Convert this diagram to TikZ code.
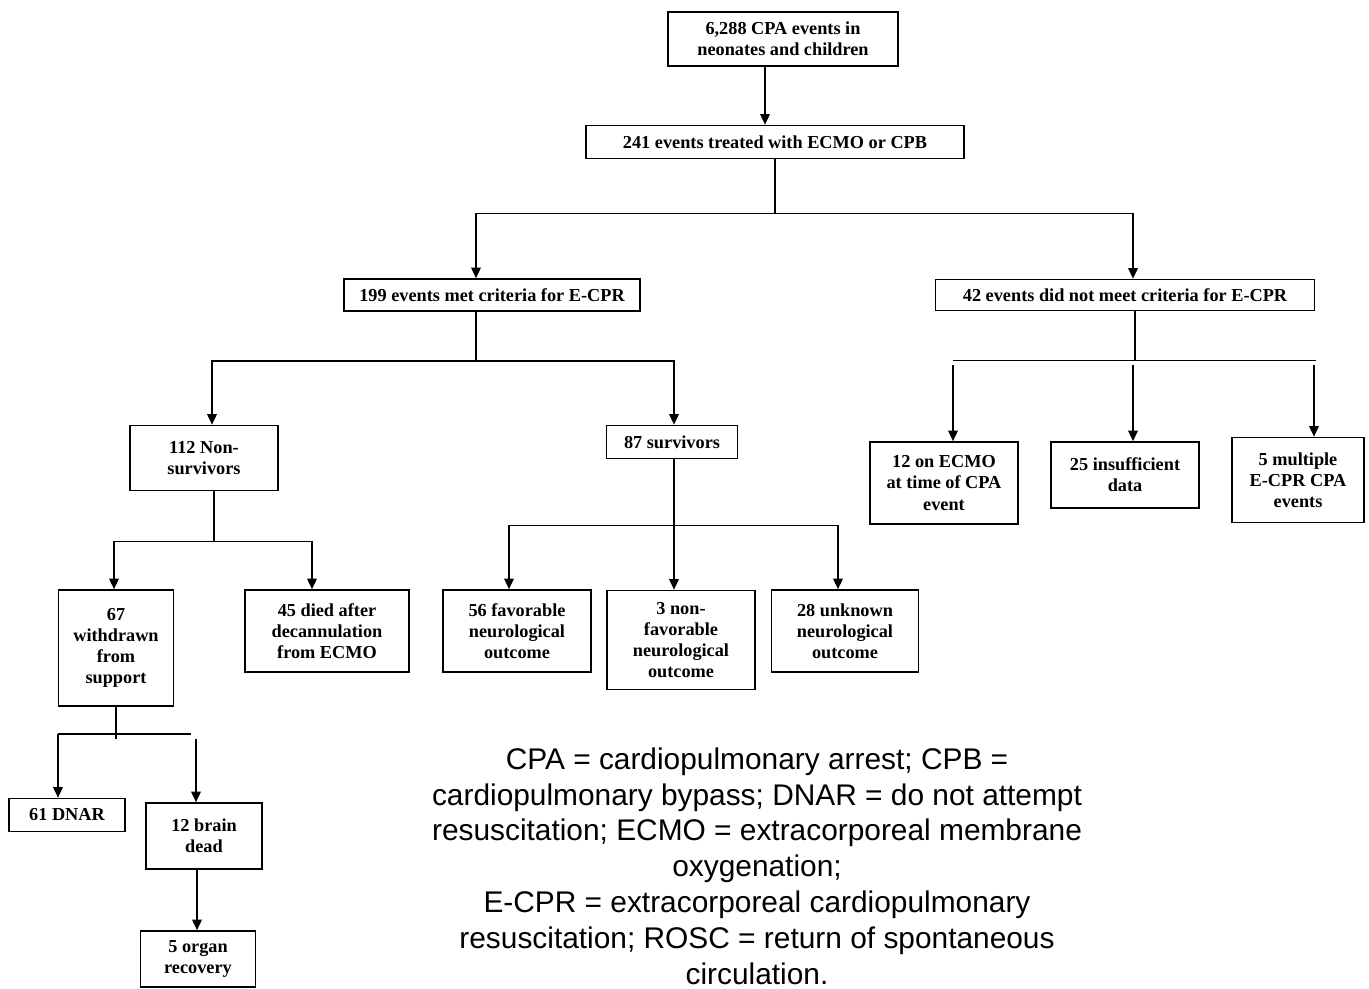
\documentclass[tikz,border=0pt]{standalone}
\usepackage{fontspec}
\setmainfont{Liberation Serif}
\newfontfamily\legendfont{Liberation Sans}
\usetikzlibrary{arrows.meta,positioning,calc}

\begin{document}
\begin{tikzpicture}[x=0.02cm,y=-0.02cm,
  block/.style={rectangle,draw=black,line width=1pt,inner sep=1pt,align=center,
                font=\bfseries\fontsize{10.4}{12}\selectfont},
  line/.style={draw,-{Triangle[width=5.5pt,length=6pt]},line width=0.8pt},
  tie/.style={draw,line width=0.8pt}]
\useasboundingbox (0,0) rectangle (1369,988);
% boxes
\node[block,minimum width=4.6cm,minimum height=1.08cm]  (all)       at (783,39)  {6,288 CPA events in\\neonates and children};
\node[block,minimum width=7.56cm,minimum height=0.66cm] (treated)   at (775,142) {241 events treated with ECMO or CPB};
\node[block,minimum width=5.92cm,minimum height=0.64cm] (met)       at (492,295) {199 events met criteria for E-CPR};
\node[block,minimum width=7.58cm,minimum height=0.62cm] (notmet)    at (1125,295) {42 events did not meet criteria for E-CPR};
\node[block,minimum width=2.96cm,minimum height=1.3cm]  (nonsurv)   at (204,458) {112 Non-\\survivors};
\node[block,minimum width=2.62cm,minimum height=0.66cm] (surv)      at (672,442) {87 survivors};
\node[block,minimum width=2.96cm,minimum height=1.64cm] (onecmo)    at (944,483) {12 on ECMO\\at time of CPA\\event};
\node[block,minimum width=2.96cm,minimum height=1.32cm] (insuff)    at (1125,475) {25 insufficient\\data};
\node[block,minimum width=2.64cm,minimum height=1.7cm]  (multi)     at (1298,480) {5 multiple\\E-CPR CPA\\events};
\node[block,minimum width=2.3cm,minimum height=2.32cm]  (withdrawn) at (116,648) {67\\withdrawn\\from\\support};
\node[block,minimum width=3.28cm,minimum height=1.64cm] (decann)    at (327,631) {45 died after\\decannulation\\from ECMO};
\node[block,minimum width=2.96cm,minimum height=1.64cm] (fav)       at (517,631) {56 favorable\\neurological\\outcome};
\node[block,minimum width=2.96cm,minimum height=1.98cm] (nonfav)    at (681,640) {3 non-\\favorable\\neurological\\outcome};
\node[block,minimum width=2.94cm,minimum height=1.64cm] (unknown)   at (845,631) {28 unknown\\neurological\\outcome};
\node[block,minimum width=2.32cm,minimum height=0.66cm] (dnar)      at (67,815)  {61 DNAR};
\node[block,minimum width=2.32cm,minimum height=1.32cm] (brain)     at (204,836) {12 brain\\dead};
\node[block,minimum width=2.3cm,minimum height=1.12cm]  (organ)     at (198,959) {5 organ\\recovery};
% abbreviations
\node[font=\legendfont\fontsize{17}{20.4}\selectfont,align=center] (legend) at (757,866)
  {CPA = cardiopulmonary arrest; CPB =\\cardiopulmonary bypass; DNAR = do not attempt\\resuscitation; ECMO = extracorporeal membrane\\oxygenation;\\E-CPR = extracorporeal cardiopulmonary\\resuscitation; ROSC = return of spontaneous\\circulation.};
% connectors
\path[line] ($(all.south)+(-18,0)$) -- ($(treated.north)+(-10,0)$);
\path[tie] (treated.south) -- ++(0,54) coordinate (s1);
\path[line] (s1) -| ($(met.north)+(-16,0)$);
\path[line] (s1) -| ($(notmet.north)+(8,0)$);
\path[tie] ($(met.south)+(-16,0)$) -- ++(0,49) coordinate (s2);
\path[line] (s2) -| ($(nonsurv.north)+(8,0)$);
\path[line] (s2) -| ($(surv.north)+(2,0)$);
% the 42 branch: arrows start just under the bar
\path[tie] ($(notmet.south)+(10,0)$) -- ++(0,49) coordinate (s3);
\path[tie] ($(s3 -| onecmo.north)+(9,0)$) -- ($(s3 -| multi.north)+(18,0)$);
\path[line] ($(s3 -| onecmo.north)+(9,5)$) -- ($(onecmo.north)+(9,0)$);
\path[line] ($(s3 -| insuff.north)+(8,5)$) -- ($(insuff.north)+(8,0)$);
\path[line] ($(s3 -| multi.north)+(16,5)$) -- ($(multi.north)+(16,0)$);
\path[tie] ($(nonsurv.south)+(10,0)$) -- ++(0,50) coordinate (s4);
\path[line] (s4) -| ($(withdrawn.north)+(-2,0)$);
\path[line] (s4) -| ($(decann.north)+(-15,0)$);
\path[tie] ($(surv.south)+(2,0)$) -- ++(0,66) coordinate (s5);
\path[line] (s5) -| ($(fav.north)+(-8,0)$);
\path[line] (s5) -- (s5 |- nonfav.north);
\path[line] (s5) -| ($(unknown.north)+(-7,0)$);
\path[tie] (withdrawn.south) -- ++(0,32);
\coordinate (s6) at ($(withdrawn.south)+(0,27)$);
\path[tie] ($(s6 -| dnar.north)+(-9,0)$) -- ($(s6 -| brain.north)+(-13,0)$);
\path[line] ($(s6 -| dnar.north)+(-9,0)$) -- ($(dnar.north)+(-9,0)$);
\path[line] ($(s6 -| brain.north)+(-8,5)$) -- ($(brain.north)+(-8,0)$);
\path[line] ($(brain.south)+(-7,0)$) -- ($(organ.north)+(-1,0)$);
\end{tikzpicture}
\end{document}
